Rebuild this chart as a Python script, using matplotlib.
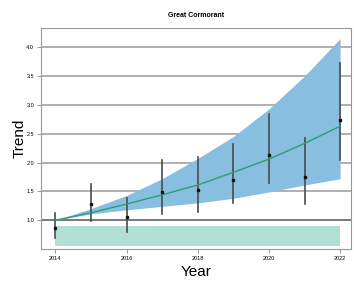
import matplotlib
matplotlib.use("Agg")
import matplotlib.pyplot as plt

plt.rcParams['font.family'] = ['Liberation Sans', 'DejaVu Sans']

# data
years = [2014, 2015, 2016, 2017, 2018, 2019, 2020, 2021, 2022]
index = [0.87, 1.28, 1.06, 1.49, 1.52, 1.69, 2.13, 1.75, 2.73]
err_lo = [0.70, 0.99, 0.80, 1.10, 1.15, 1.29, 1.64, 1.28, 2.04]
err_hi = [1.13, 1.63, 1.38, 2.04, 2.09, 2.32, 2.84, 2.43, 3.72]
trend = [1.00, 1.13, 1.28, 1.44, 1.61, 1.83, 2.06, 2.33, 2.63]
band_lo = [1.00, 1.11, 1.18, 1.24, 1.30, 1.38, 1.49, 1.61, 1.72]
band_hi = [1.00, 1.20, 1.43, 1.72, 2.07, 2.45, 2.93, 3.50, 4.15]
rect_y = [0.55, 0.90]
yticks = [1.0, 1.5, 2.0, 2.5, 3.0, 3.5, 4.0]
xticks = [2014, 2016, 2018, 2020, 2022]

fig = plt.figure(figsize=(3.54, 2.84), dpi=100)
ax = fig.add_axes([0.116, 0.123, 0.875, 0.778])

# grid lines
for y in yticks:
    ax.axhline(y, color='#555555' if y == 1.0 else '#9a9a9a', lw=1.1, zorder=1)

# green bar at the bottom
ax.fill_between([years[0], years[-1]], rect_y[0], rect_y[1], color='#b2dfd3', lw=0, zorder=2)

# confidence band
ax.fill_between(years, band_lo, band_hi, color='#88bedf', lw=0, zorder=2)

# trend line
ax.plot(years, trend, color='#2e9e72', lw=1.0, zorder=4)

# annual indices with error bars
for x, lo, hi in zip(years, err_lo, err_hi):
    ax.plot([x, x], [lo, hi], color='#4a4a4a', lw=1.2, zorder=3)
ax.plot(years, index, 's', color='#111111', ms=1.6, zorder=5)

ax.set_xlim(2013.6, 2022.3)
ax.set_ylim(0.5, 4.33)
ax.set_xticks(xticks)
ax.set_xticklabels([str(x) for x in xticks])
ax.set_yticks(yticks)
ax.set_yticklabels(['%.1f' % y for y in yticks])
ax.tick_params(labelsize=4, length=3, width=0.6, color='#888888', pad=2)

for s in ax.spines.values():
    s.set_color('#999999')
    s.set_linewidth(0.8)

ax.set_title('Great Cormorant', fontsize=5, fontweight='bold', pad=8)
ax.set_xlabel('Year', fontsize=11, labelpad=3)
ax.set_ylabel('Trend', fontsize=11, labelpad=0)

fig.savefig('out.png', dpi=100)
